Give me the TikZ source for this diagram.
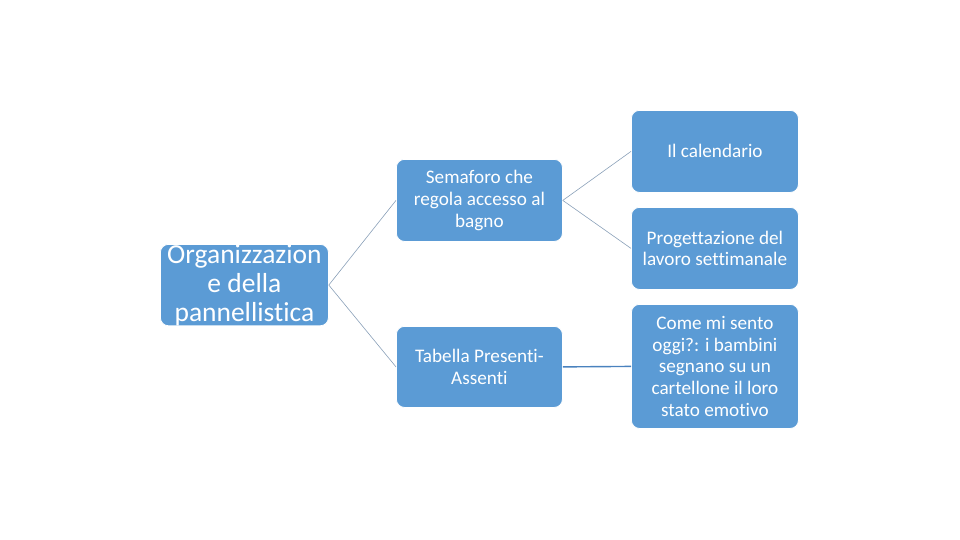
\documentclass[tikz,border=0pt]{standalone}
\usepackage{fontspec}
\setmainfont[Ligatures=NoCommon]{Carlito}
\begin{document}
\begin{tikzpicture}[x=1pt,y=-1pt,
  box/.style={draw=white,line width=0.8pt,fill=boxblue,rounded corners=8pt,text=white,align=center,inner sep=0pt,anchor=north west},
  small/.style={font=\fontsize{19.2}{21.8}\selectfont},
  big/.style={font=\fontsize{27.5}{29}\selectfont},
  link/.style={draw=linegray,line width=0.6pt},
  linkb/.style={draw=lineblue,line width=1.4pt}]
\definecolor{boxblue}{HTML}{5B9BD5}
\definecolor{linegray}{HTML}{8AA0B8}
\definecolor{lineblue}{HTML}{4A82BE}
\useasboundingbox (0,0) rectangle (960,540);
\node[box,big,minimum width=168pt,minimum height=80pt] (root) at (160,244) {Organizzazion\\e della\\pannellistica};
\node[box,small,minimum width=166pt,minimum height=82pt] (sem) at (396,159) {Semaforo che\\regola accesso al\\bagno};
\node[box,small,minimum width=166pt,minimum height=81pt] (tab) at (396,326) {Tabella Presenti-\\Assenti};
\node[box,small,minimum width=167pt,minimum height=82pt] (cal) at (631,110) {Il calendario};
\node[box,small,minimum width=167pt,minimum height=82pt] (prog) at (631,207) {Progettazione del\\lavoro settimanale};
\node[box,small,minimum width=167pt,minimum height=124pt] (come) at (631,304) {Come mi sento\\oggi?: i bambini\\segnano su un\\cartellone il loro\\stato emotivo};
\draw[link] (root.east) -- (sem.west);
\draw[link] (root.east) -- (tab.west);
\draw[link] (sem.east) -- (cal.west);
\draw[link] (sem.east) -- (prog.west);
\draw[linkb] (tab.east) -- (come.west);
\end{tikzpicture}
\end{document}
